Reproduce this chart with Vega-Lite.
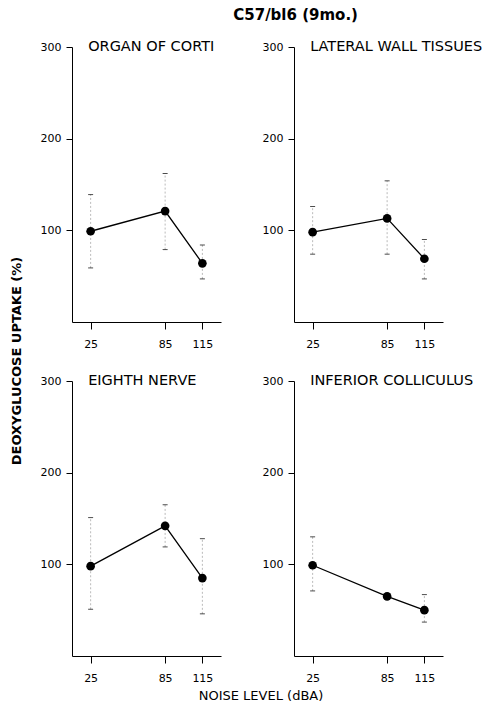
{
  "$schema": "https://vega.github.io/schema/vega-lite/v6.json",
  "background": "white",
  "padding": {"left": 10, "top": 8, "right": 5, "bottom": 3},
  "title": {"text": "C57/bl6 (9mo.)", "font": "DejaVu Sans", "fontSize": 15, "fontWeight": "bold", "color": "black", "anchor": "middle", "dx": 49, "offset": 16},
  "data": {"values": [
    {"row": 1, "col": 1, "panel": "ORGAN OF CORTI", "level": 25, "mean": 99, "lo": 59, "hi": 139},
    {"row": 1, "col": 1, "panel": "ORGAN OF CORTI", "level": 85, "mean": 121, "lo": 79, "hi": 162},
    {"row": 1, "col": 1, "panel": "ORGAN OF CORTI", "level": 115, "mean": 64, "lo": 47, "hi": 84},
    {"row": 1, "col": 2, "panel": "LATERAL WALL TISSUES", "level": 25, "mean": 98, "lo": 74, "hi": 126},
    {"row": 1, "col": 2, "panel": "LATERAL WALL TISSUES", "level": 85, "mean": 113, "lo": 74, "hi": 154},
    {"row": 1, "col": 2, "panel": "LATERAL WALL TISSUES", "level": 115, "mean": 69, "lo": 47, "hi": 90},
    {"row": 2, "col": 1, "panel": "EIGHTH NERVE", "level": 25, "mean": 98, "lo": 51, "hi": 151},
    {"row": 2, "col": 1, "panel": "EIGHTH NERVE", "level": 85, "mean": 142, "lo": 119, "hi": 165},
    {"row": 2, "col": 1, "panel": "EIGHTH NERVE", "level": 115, "mean": 85, "lo": 46, "hi": 128},
    {"row": 2, "col": 2, "panel": "INFERIOR COLLICULUS", "level": 25, "mean": 99, "lo": 71, "hi": 130},
    {"row": 2, "col": 2, "panel": "INFERIOR COLLICULUS", "level": 85, "mean": 65, "lo": null, "hi": null},
    {"row": 2, "col": 2, "panel": "INFERIOR COLLICULUS", "level": 115, "mean": 50, "lo": 37, "hi": 67}
  ]},
  "facet": {
    "row": {"field": "row", "type": "ordinal", "title": "DEOXYGLUCOSE UPTAKE (%)",
      "header": {"labels": false, "titleFont": "DejaVu Sans", "titleFontSize": 13, "titleFontWeight": "bold", "titleColor": "black", "titlePadding": 38}},
    "column": {"field": "col", "type": "ordinal", "title": "NOISE LEVEL (dBA)",
      "header": {"labels": false, "titleOrient": "bottom", "titleFont": "DejaVu Sans", "titleFontSize": 13, "titleFontWeight": "normal", "titleColor": "black", "titlePadding": 24}}
  },
  "spacing": {"row": 59, "column": 73},
  "bounds": "flush",
  "resolve": {"axis": {"x": "independent", "y": "independent"}},
  "spec": {
    "width": 149,
    "height": 275,
    "encoding": {
      "x": {"field": "level", "type": "quantitative", "title": null, "scale": {"domain": [10, 130]},
        "axis": {"values": [25, 85, 115], "tickSize": 7, "labelPadding": 9, "title": null}}
    },
    "layer": [
      {
        "transform": [{"filter": "datum.lo != null"}],
        "mark": {"type": "rule", "color": "#aaaaaa", "strokeWidth": 0.8, "strokeDash": [2, 2]},
        "encoding": {
          "y": {"field": "lo", "type": "quantitative", "title": null, "scale": {"domain": [0, 300]},
            "axis": {"values": [100, 200, 300], "tickSize": 6, "labelPadding": 5, "title": null}},
          "y2": {"field": "hi"}
        }
      },
      {
        "transform": [{"filter": "datum.lo != null"}],
        "mark": {"type": "tick", "orient": "horizontal", "color": "black", "size": 5, "thickness": 1},
        "encoding": {
          "y": {"field": "lo", "type": "quantitative", "title": null, "scale": {"domain": [0, 300]},
            "axis": {"values": [100, 200, 300], "tickSize": 6, "labelPadding": 5, "title": null}}
        }
      },
      {
        "transform": [{"filter": "datum.hi != null"}],
        "mark": {"type": "tick", "orient": "horizontal", "color": "black", "size": 5, "thickness": 1},
        "encoding": {
          "y": {"field": "hi", "type": "quantitative", "title": null, "scale": {"domain": [0, 300]},
            "axis": {"values": [100, 200, 300], "tickSize": 6, "labelPadding": 5, "title": null}}
        }
      },
      {
        "mark": {"type": "line", "color": "black", "strokeWidth": 1.3},
        "encoding": {
          "y": {"field": "mean", "type": "quantitative", "title": null, "scale": {"domain": [0, 300]},
            "axis": {"values": [100, 200, 300], "tickSize": 6, "labelPadding": 5, "title": null}}
        }
      },
      {
        "mark": {"type": "point", "filled": true, "color": "black", "size": 75, "opacity": 1},
        "encoding": {
          "y": {"field": "mean", "type": "quantitative", "title": null, "scale": {"domain": [0, 300]},
            "axis": {"values": [100, 200, 300], "tickSize": 6, "labelPadding": 5, "title": null}}
        }
      },
      {
        "transform": [{"filter": "datum.level == 25"}],
        "mark": {"type": "text", "align": "left", "baseline": "middle", "font": "DejaVu Sans", "fontSize": 14.5, "color": "black"},
        "encoding": {
          "x": {"datum": 23},
          "y": {"datum": 300},
          "text": {"field": "panel"}
        }
      }
    ]
  },
  "config": {
    "view": {"stroke": null},
    "axis": {"grid": false, "domainColor": "black", "tickColor": "black", "labelColor": "black", "labelFont": "DejaVu Sans", "labelFontSize": 11, "domainWidth": 1, "tickWidth": 1}
  }
}
